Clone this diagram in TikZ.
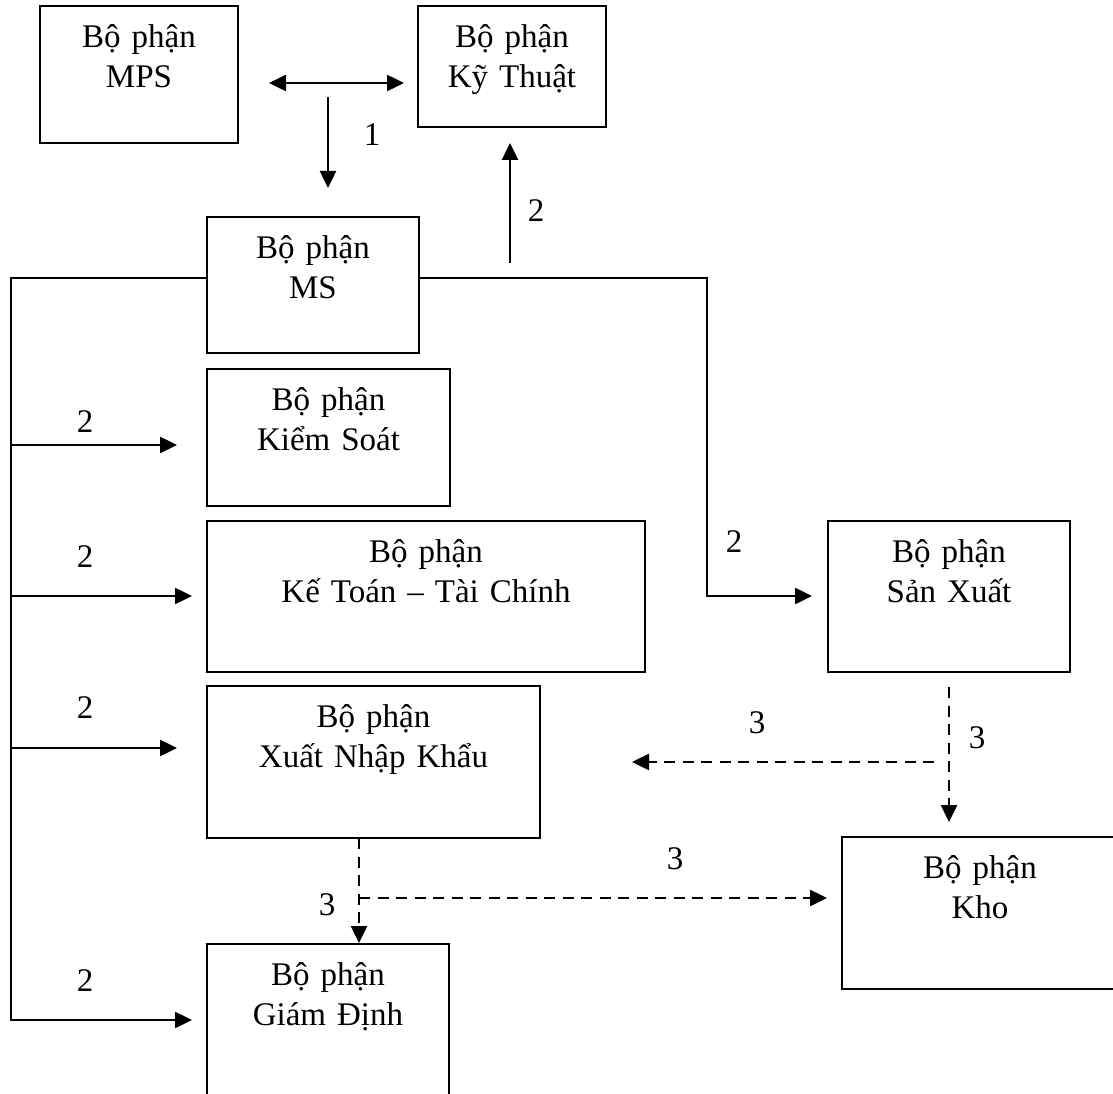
\documentclass[tikz,border=0pt]{standalone}
\usepackage{fontspec}
\setmainfont{Liberation Serif}
\usetikzlibrary{arrows.meta}
\begin{document}
\begin{tikzpicture}[x=1pt,y=-1pt,
  box/.style={draw, line width=2.4pt, inner sep=0pt, rectangle},
  txt/.style={font=\fontsize{33}{40}\selectfont, align=center, inner sep=0pt, anchor=base},
  num/.style={font=\fontsize{33}{40}\selectfont, inner sep=0pt},
  link/.style={line width=2.5pt},
  arr/.style={link, -{Triangle[length=17pt,width=16pt]}},
  dsh/.style={dash pattern=on 11pt off 7.5pt},
]
\useasboundingbox (0,0) rectangle (1113,1094);
\clip (0,0) rectangle (1113,1094);

% departments
\node[box, minimum width=198pt, minimum height=137pt] (mps) at (139,74.5) {};
\node[box, minimum width=188pt, minimum height=121pt] (kt)  at (512,66.5) {};
\node[box, minimum width=212pt, minimum height=136pt] (ms)  at (313,285) {};
\node[box, minimum width=243pt, minimum height=137pt] (ks)  at (328.5,437.5) {};
\node[box, minimum width=438pt, minimum height=151pt] (ktc) at (426,596.5) {};
\node[box, minimum width=333pt, minimum height=152pt] (xnk) at (373.5,762) {};
\node[box, minimum width=242pt, minimum height=166pt] (gd)  at (328,1027) {};
\node[box, minimum width=242pt, minimum height=151pt] (sx)  at (949,596.5) {};
\node[box, minimum width=276pt, minimum height=152pt] (kho) at (980,913) {};

\node[txt, text width=198pt] (mps-t) at ([yshift=-43pt]mps.north) {Bộ phận\\MPS};
\node[txt, text width=188pt] (kt-t)  at ([yshift=-43pt]kt.north)  {Bộ phận\\Kỹ Thuật};
\node[txt, text width=212pt] (ms-t)  at ([yshift=-43pt]ms.north)  {Bộ phận\\MS};
\node[txt, text width=243pt] (ks-t)  at ([yshift=-43pt]ks.north)  {Bộ phận\\Kiểm Soát};
\node[txt, text width=438pt] (ktc-t) at ([yshift=-43pt]ktc.north) {Bộ phận\\Kế Toán – Tài Chính};
\node[txt, text width=333pt] (xnk-t) at ([yshift=-43pt]xnk.north) {Bộ phận\\Xuất Nhập Khẩu};
\node[txt, text width=242pt] (gd-t)  at ([yshift=-43pt]gd.north)  {Bộ phận\\Giám Định};
\node[txt, text width=242pt] (sx-t)  at ([yshift=-43pt]sx.north)  {Bộ phận\\Sản Xuất};
\node[txt, text width=276pt] (kho-t) at ([yshift=-43pt]kho.north) {Bộ phận\\Kho};

% free ends of the connectors
\coordinate (da-l) at (269,83);
\coordinate (da-r) at (404,83);
\coordinate (d1-a) at (328,97);
\coordinate (d1-b) at (328,188);
\coordinate (u2-a) at (510,263);
\coordinate (u2-b) at (510,143);
\coordinate (ms-l) at (207,278);
\coordinate (ms-r) at (419,278);
\coordinate (sp-t) at (11,278);
\coordinate (sp-b) at (11,1020);
\coordinate (ks-a) at (11,445);
\coordinate (ks-b) at (177,445);
\coordinate (ktc-a) at (11,596);
\coordinate (ktc-b) at (192,596);
\coordinate (xnk-a) at (11,748);
\coordinate (xnk-b) at (177,748);
\coordinate (gd-b) at (192,1020);
\coordinate (rt-t) at (707,278);
\coordinate (rt-b) at (707,596);
\coordinate (sx-b) at (812,596);
\coordinate (sxd-a) at (949,687);
\coordinate (sxd-b) at (949,822);
\coordinate (sxh-a) at (934,762);
\coordinate (sxh-b) at (632,762);
\coordinate (xd-a) at (359,838);
\coordinate (xd-b) at (359,943);
\coordinate (xh-a) at (359,898);
\coordinate (xh-b) at (827,898);

% step 1
\draw[link, {Triangle[length=17pt,width=16pt]}-{Triangle[length=17pt,width=16pt]}] (da-l) -- (da-r);
\draw[arr] (d1-a) -- (d1-b);
\node[num] (n1) at (372,135) {1};

% step 2
\draw[arr] (u2-a) -- (u2-b);
\node[num] (n2u) at (536,211) {2};
\draw[arr] (ms-l) -- (sp-t) -- (sp-b) -- (gd-b);
\draw[arr] (ks-a) -- (ks-b);
\draw[arr] (ktc-a) -- (ktc-b);
\draw[arr] (xnk-a) -- (xnk-b);
\node[num] (n2a) at (85,422) {2};
\node[num] (n2b) at (85,557) {2};
\node[num] (n2c) at (85,708) {2};
\node[num] (n2d) at (85,981) {2};
\draw[arr] (ms-r) -- (rt-t) -- (rt-b) -- (sx-b);
\node[num] (n2s) at (734,542) {2};

% step 3
\draw[arr, dsh] (sxd-a) -- (sxd-b);
\draw[arr, dsh] (sxh-a) -- (sxh-b);
\node[num] (n3a) at (757,723) {3};
\node[num] (n3b) at (977,738) {3};
\draw[arr, dsh] (xd-a) -- (xd-b);
\draw[arr, dsh] (xh-a) -- (xh-b);
\node[num] (n3c) at (327,905) {3};
\node[num] (n3d) at (675,859) {3};
\end{tikzpicture}
\end{document}
